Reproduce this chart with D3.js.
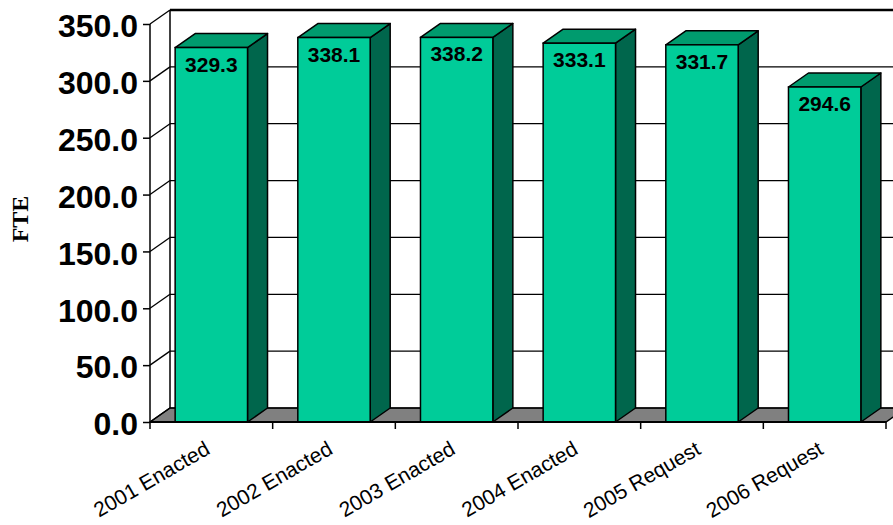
<!DOCTYPE html>
<html><head><meta charset="utf-8">
<script src="https://cdn.jsdelivr.net/npm/d3@7"></script>
<style>
html,body{margin:0;padding:0;background:#fff;}
svg{display:block;}
</style></head>
<body>
<svg id="chart" width="893" height="525"></svg>
<script>
const categories = ["2001 Enacted","2002 Enacted","2003 Enacted","2004 Enacted","2005 Request","2006 Request"];
const values = [329.3, 338.1, 338.2, 333.1, 331.7, 294.6];
const yTicks = [0,50,100,150,200,250,300,350];
const yTitle = "FTE";

(function(){
const svg = d3.select("#chart");
const pL = 150, pR = 886, pT = 24, pB = 422;
const dx = 20, dy = -14;

const y = d3.scaleLinear().domain([0,350]).range([pB, pT]);
const x = d3.scaleBand().domain(categories).range([pL, pR]).paddingInner(0.41).paddingOuter(0.205);
const xi = d3.scaleLinear().domain([0, categories.length]).range([pL, pR]);

const cFront = "#00CC99", cTop = "#009B6E", cSide = "#00664C", cFloor = "#808080";

svg.append("path")
  .attr("d", `M${pL},${pB} L${pL+dx},${pB+dy} L${pR+dx},${pB+dy} L${pR},${pB} Z`)
  .attr("fill", cFloor).attr("stroke", "#000").attr("stroke-width", 1.5);

const g = svg.append("g");
yTicks.forEach(t => {
  g.append("line").attr("x1", pL+dx).attr("x2", pR+dx+20)
    .attr("y1", y(t)+dy).attr("y2", y(t)+dy)
    .attr("stroke", "#000").attr("stroke-width", t === 350 ? 2.5 : 1.2);
  g.append("line").attr("x1", pL).attr("x2", pL+dx)
    .attr("y1", y(t)).attr("y2", y(t)+dy)
    .attr("stroke", "#000").attr("stroke-width", 1.3);
});
g.append("line").attr("x1", pL+dx).attr("x2", pL+dx)
  .attr("y1", y(350)+dy).attr("y2", y(0)+dy).attr("stroke", "#000").attr("stroke-width", 1.5);

const bars = svg.append("g");
categories.forEach((c, i) => {
  const v = values[i];
  const x0 = x(c), x1 = x(c) + x.bandwidth();
  const yv = y(v), y0 = y(0);
  bars.append("path")
    .attr("d", `M${x1},${yv} L${x1+dx},${yv+dy} L${x1+dx},${y0+dy} L${x1},${y0} Z`)
    .attr("fill", cSide).attr("stroke", "#000").attr("stroke-width", 1.5).attr("stroke-linejoin","round");
  bars.append("path")
    .attr("d", `M${x0},${yv} L${x0+dx},${yv+dy} L${x1+dx},${yv+dy} L${x1},${yv} Z`)
    .attr("fill", cTop).attr("stroke", "#000").attr("stroke-width", 1.5).attr("stroke-linejoin","round");
  bars.append("rect")
    .attr("x", x0).attr("y", yv).attr("width", x1 - x0).attr("height", y0 - yv)
    .attr("fill", cFront).attr("stroke", "#000").attr("stroke-width", 1.5);
  bars.append("text")
    .attr("x", (x0 + x1) / 2).attr("y", yv + 24)
    .attr("text-anchor", "middle")
    .attr("font-family", "'Liberation Sans', Arial, sans-serif")
    .attr("font-weight", "bold").attr("font-size", "21px")
    .attr("fill", "#000").text(d3.format(".1f")(v));
});

const yAxis = svg.append("g").attr("transform", `translate(${pL},0)`)
  .call(d3.axisLeft(y).tickValues(yTicks).tickSize(7).tickPadding(5).tickFormat(d3.format(".1f")));
yAxis.select(".domain").attr("stroke", "#000").attr("stroke-width", 1.5).attr("d", `M0,${pB}V${pT}`);
yAxis.selectAll(".tick line").attr("stroke", "#000").attr("stroke-width", 1.5);
yAxis.selectAll(".tick text")
  .attr("font-family", "'Liberation Sans', Arial, sans-serif")
  .attr("font-weight", "bold").attr("font-size", "32px").attr("fill", "#000")
  .attr("dy", "0.4em");

svg.append("line").attr("x1", pL).attr("x2", pR).attr("y1", pB).attr("y2", pB)
  .attr("stroke", "#000").attr("stroke-width", 2);
d3.range(categories.length + 1).forEach(i => {
  svg.append("line").attr("x1", xi(i)).attr("x2", xi(i)).attr("y1", pB).attr("y2", pB + 7)
    .attr("stroke", "#000").attr("stroke-width", 1.5);
});
categories.forEach((c, i) => {
  const cx = (xi(i) + xi(i + 1)) / 2;
  svg.append("text")
    .attr("transform", `translate(${cx},${pB + 31}) rotate(-30)`)
    .attr("text-anchor", "end")
    .attr("font-family", "'Liberation Sans', Arial, sans-serif")
    .attr("font-size", "21px").attr("fill", "#000")
    .text(c);
});

svg.append("text")
  .attr("transform", `translate(28,219) rotate(-90)`)
  .attr("text-anchor", "middle")
  .attr("font-family", "'Liberation Serif', 'Times New Roman', serif")
  .attr("font-weight", "bold").attr("font-size", "24px").attr("fill", "#000")
  .text(yTitle);
})();
</script>
</body></html>
